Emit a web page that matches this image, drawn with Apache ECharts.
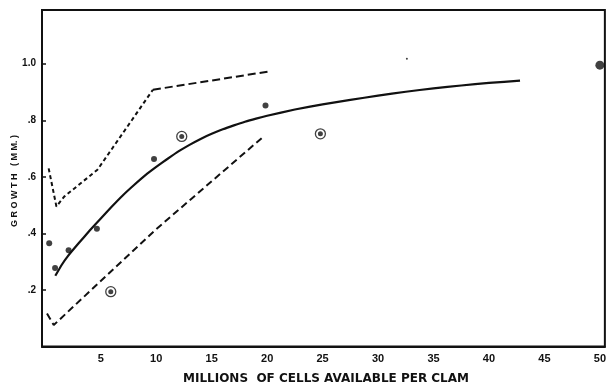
<!DOCTYPE html>
<html><head><meta charset="utf-8">
<script src="https://cdn.jsdelivr.net/npm/echarts@6/dist/echarts.min.js"></script>
<style>html,body{margin:0;padding:0;background:#fff}#c{width:609px;height:388px}</style>
</head><body><div id="c"></div>
<script>
// Data (millions of cells, growth mm)
const xTicks = [5,10,15,20,25,30,35,40,45,50];
const yTicks = [0.2,0.4,0.6,0.8,1.0];
const dots = [[0.35,0.365],[0.88,0.278],[2.1,0.34],[4.65,0.416],[9.8,0.663],[19.85,0.852]];
const circled = [[5.9,0.194],[12.3,0.743],[24.8,0.752]];
const bigDot = [[50,0.995]];
const speck = [[32.6,1.018]];
const fitted = [[0.9,0.25],[1.5,0.29],[2,0.318],[3,0.365],[4,0.41],[5,0.453],[6,0.495],[7,0.535],[8,0.571],[9,0.605],[10,0.635],[11,0.663],[12,0.69],[13,0.713],[14,0.734],[15,0.752],[16,0.768],[17,0.782],[18,0.795],[19,0.806],[20,0.816],[22.5,0.838],[25,0.856],[27.5,0.872],[30,0.887],[32.5,0.901],[35,0.913],[37.5,0.923],[40,0.932],[42.8,0.94]];
const upperA = [[0.3,0.63],[1.0,0.495],[1.7,0.53],[4.7,0.625],[9.7,0.908]];
const upperB = [[9.7,0.908],[20.2,0.973]];
const lower = [[0.15,0.117],[0.76,0.076],[10,0.415],[19.6,0.74]];

const ink = '#111';
const chart = echarts.init(document.getElementById('c'));
chart.setOption({
  animation:false,
  backgroundColor:'#fff',
  grid:{left:42,right:4,top:10,bottom:41.5,show:true,borderColor:ink,borderWidth:2},
  xAxis:{type:'value',min:-0.3,max:50.45,
    axisLine:{show:true,onZero:false,lineStyle:{color:ink,width:2}},
    axisTick:{show:false},splitLine:{show:false},
    axisLabel:{customValues:xTicks,color:ink,fontFamily:'Liberation Sans',fontWeight:'bold',fontSize:11,margin:7}},
  yAxis:{type:'value',min:0,max:1.19,
    axisLine:{show:true,onZero:false,lineStyle:{color:ink,width:2}},
    axisTick:{show:true,inside:true,length:4,customValues:yTicks,lineStyle:{color:ink,width:1.5}},
    splitLine:{show:false},
    axisLabel:{customValues:yTicks,color:ink,fontFamily:'Liberation Sans',fontWeight:'bold',fontSize:10,margin:6,
      formatter:v=>v>=0.99?'1.0':v.toFixed(1).replace(/^0/,'')}},
  graphic:[
    {type:'text',x:326,y:379,style:{text:'MILLIONS  OF CELLS AVAILABLE PER CLAM',fill:ink,font:'bold 12px "DejaVu Sans"',textAlign:'center',textVerticalAlign:'middle'}},
    {type:'text',x:15,y:181,rotation:Math.PI/2,style:{text:'G R O W T H   ( M M. )',fill:ink,font:'bold 9px "Liberation Sans"',textAlign:'center',textVerticalAlign:'middle'}}
  ],
  series:[
    {type:'line',data:fitted,smooth:0.15,symbol:'none',lineStyle:{color:ink,width:2.2}},
    {type:'line',data:upperA,symbol:'none',lineStyle:{color:ink,width:2,type:[4,3]}},
    {type:'line',data:upperB,symbol:'none',lineStyle:{color:ink,width:2,type:[8,4]}},
    {type:'line',data:lower,symbol:'none',lineStyle:{color:ink,width:2,type:[7,4]}},
    {type:'scatter',data:dots,symbolSize:6,itemStyle:{color:ink}},
    {type:'scatter',data:circled,symbolSize:5,itemStyle:{color:ink}},
    {type:'scatter',data:circled,symbolSize:10,itemStyle:{color:'rgba(0,0,0,0)',borderColor:ink,borderWidth:1.3}},
    {type:'scatter',data:bigDot,symbolSize:9,itemStyle:{color:ink}},
    {type:'scatter',data:speck,symbolSize:2,itemStyle:{color:ink}}
  ]
});
</script></body></html>
